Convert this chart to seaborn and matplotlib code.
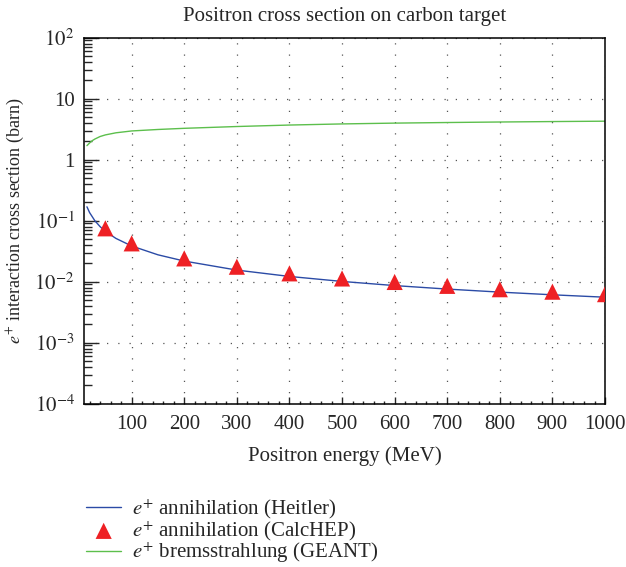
import matplotlib
matplotlib.use('Agg')
import matplotlib.pyplot as plt
import seaborn as sns
import pandas as pd

# Heitler annihilation curve
heitler_energy = [15, 20, 30, 40, 50, 70, 100, 150, 200, 300, 400, 500, 600, 700, 800, 900, 1000]
heitler_xsec = [0.169, 0.136, 0.0999, 0.0799, 0.0670, 0.0513, 0.0385, 0.0276, 0.0218,
                0.0155, 0.0122, 0.0101, 0.00864, 0.00757, 0.00675, 0.00610, 0.00557]

# CalcHEP annihilation points
calchep_energy = [50, 100, 200, 300, 400, 500, 600, 700, 800, 900, 1000]
calchep_xsec = [0.075, 0.0425, 0.0241, 0.0176, 0.0137, 0.0113, 0.0099, 0.00855, 0.00753, 0.00686, 0.00625]

# GEANT bremsstrahlung curve
geant_energy = [15, 20, 25, 30, 40, 50, 70, 100, 150, 200, 300, 400, 500, 600, 700, 800, 900, 1000]
geant_xsec = [1.70, 1.88, 2.05, 2.18, 2.40, 2.55, 2.76, 2.96, 3.13, 3.27, 3.50, 3.70, 3.86, 3.98, 4.07, 4.15, 4.22, 4.28]

xtick_values = [100, 200, 300, 400, 500, 600, 700, 800, 900, 1000]
ytick_values = [1e-4, 1e-3, 1e-2, 1e-1, 1, 10, 100]
ytick_labels = [r'$10^{-4}$', r'$10^{-3}$', r'$10^{-2}$', r'$10^{-1}$', '1', '10', r'$10^{2}$']

sns.set_style('white')
plt.rcParams['font.family'] = ['Liberation Serif', 'DejaVu Serif']
plt.rcParams['mathtext.fontset'] = 'stix'
plt.rcParams['font.size'] = 15

heitler = pd.DataFrame({'E': heitler_energy, 'xs': heitler_xsec})
calchep = pd.DataFrame({'E': calchep_energy, 'xs': calchep_xsec})
geant = pd.DataFrame({'E': geant_energy, 'xs': geant_xsec})

fig = plt.figure(figsize=(6.26, 5.67), dpi=100)
ax = fig.add_axes([0.1347, 0.288, 0.8318, 0.6455])

sns.lineplot(data=heitler, x='E', y='xs', ax=ax, color='#2b4ba6', linewidth=1.0,
             label=r'$e^{+}$ annihilation (Heitler)')
sns.scatterplot(data=calchep, x='E', y='xs', ax=ax, marker='^', s=135, color='#ee2024',
                edgecolor='none', zorder=5, label=r'$e^{+}$ annihilation (CalcHEP)')
sns.lineplot(data=geant, x='E', y='xs', ax=ax, color='#5cbf4c', linewidth=1.0,
             label=r'$e^{+}$ bremsstrahlung (GEANT)')

ax.set_yscale('log')
ax.set_xlim(10, 1000)
ax.set_ylim(1e-4, 1e2)
ax.set_xticks(xtick_values)
ax.set_xticks(range(20, 1000, 20), minor=True)
ax.set_yticks(ytick_values)
ax.set_yticklabels(ytick_labels)

ax.grid(True, which='major', color='#555555', linestyle=(0, (1, 8)), linewidth=0.9)
ax.tick_params(axis='y', which='major', direction='in', length=11, width=1.0, left=True, right=False,
               pad=7, labelsize=15)
ax.tick_params(axis='y', which='minor', direction='in', length=5.5, width=1.0, left=True, right=False)
ax.tick_params(axis='x', which='major', direction='in', length=5, width=1.0, bottom=True, top=False,
               pad=8, labelsize=15)
ax.tick_params(axis='x', which='minor', direction='in', length=2.5, width=1.0, bottom=True, top=False)
for sp in ax.spines.values():
    sp.set_color('black')
    sp.set_linewidth(1.1)

ax.set_title('Positron cross section on carbon target', fontsize=15, pad=12)
ax.set_xlabel('Positron energy (MeV)', fontsize=15, labelpad=9)
ax.set_ylabel(r'$e^{+}$ interaction cross section (barn)', fontsize=13, labelpad=6)

handles, labels = ax.get_legend_handles_labels()
ax.legend_.remove()
fig.legend(handles, labels, loc='upper left', bbox_to_anchor=(0.124, 0.137), frameon=False,
           fontsize=15, handlelength=1.7, labelspacing=-0.1, handletextpad=0.5, scatterpoints=1,
           borderaxespad=0)

fig.savefig('out.png', dpi=100)
